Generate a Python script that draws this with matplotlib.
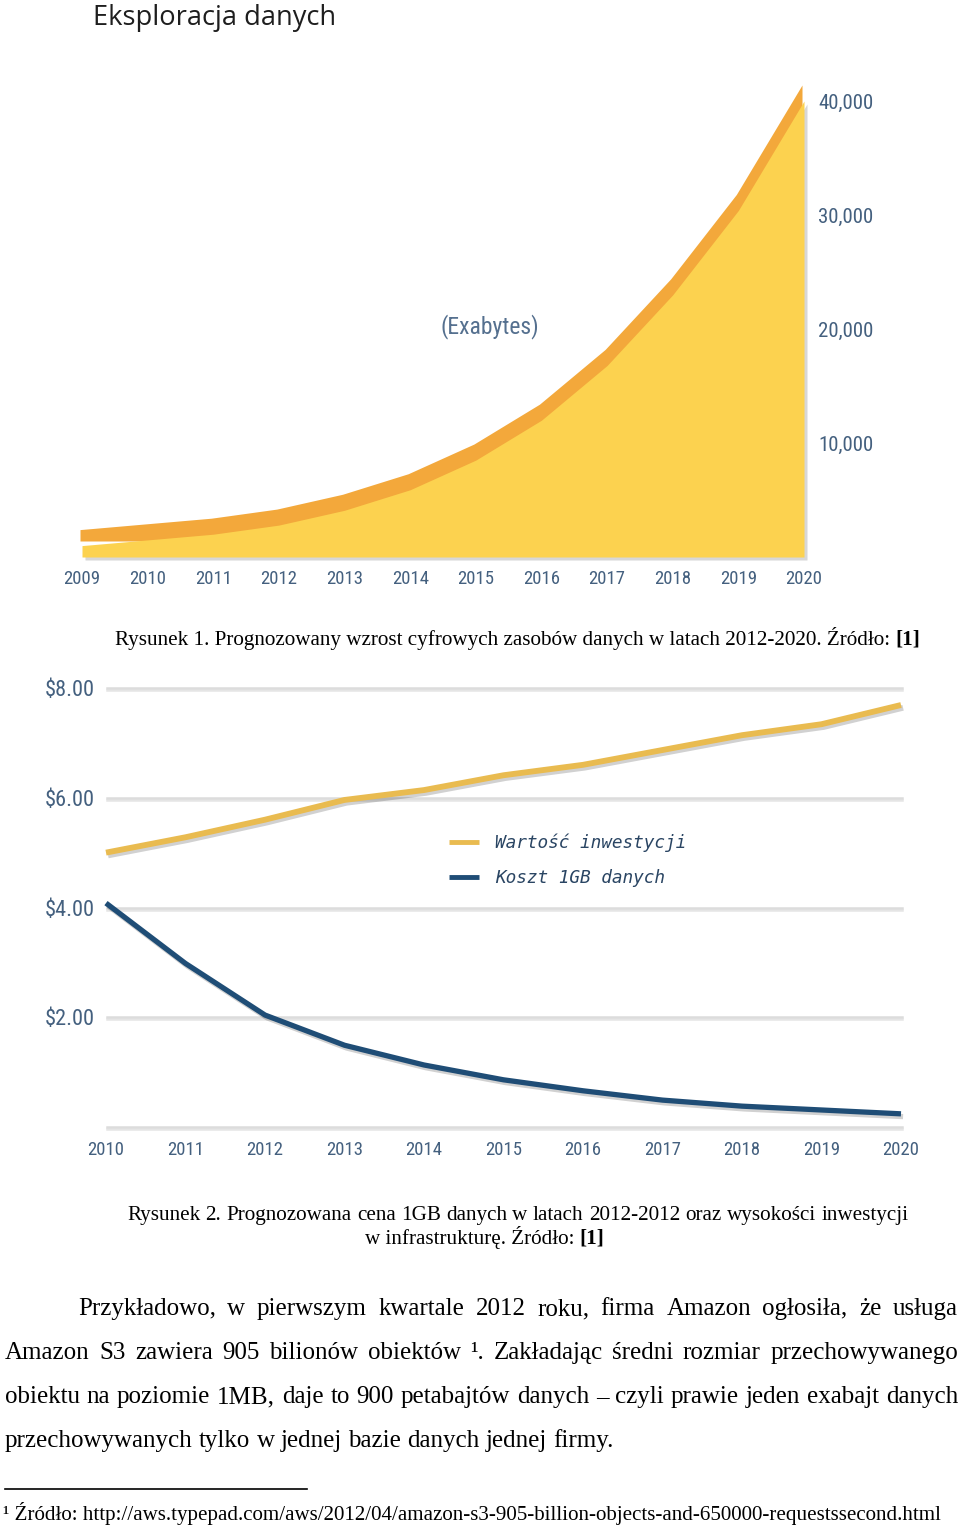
import matplotlib
matplotlib.use("Agg")
import matplotlib.pyplot as plt
import matplotlib.transforms as mtransforms
import matplotlib.patheffects as pe
from matplotlib.lines import Line2D

W, H = 960, 1527

# ---- data: chart 1 (digital data, exabytes)
years1 = [2009, 2010, 2011, 2012, 2013, 2014, 2015, 2016, 2017, 2018, 2019, 2020]
exabytes = [1000, 1500, 2000, 2800, 4100, 5900, 8500, 12000, 16800, 23000, 30400, 40000]
ticks1 = [10000, 20000, 30000, 40000]
tick1_labels = ["10,000", "20,000", "30,000", "40,000"]

# ---- data: chart 2 (price of 1GB vs investment)
years2 = [2010, 2011, 2012, 2013, 2014, 2015, 2016, 2017, 2018, 2019, 2020]
investment = [5.0, 5.28, 5.6, 5.96, 6.14, 6.41, 6.6, 6.87, 7.14, 7.34, 7.69]
cost_1gb = [4.08, 2.98, 2.04, 1.49, 1.13, 0.86, 0.66, 0.49, 0.38, 0.31, 0.24]
ticks2 = [2, 4, 6, 8]
tick2_labels = ["$2.00", "$4.00", "$6.00", "$8.00"]
legend_labels = ["Wartość inwestycji", "Koszt 1GB danych"]

header = "Eksploracja danych"
caption1 = ["Rysunek 1. Prognozowany wzrost cyfrowych zasobów danych w latach 2012-2020. Źródło: ", "[1]"]
caption2a = "Rysunek 2. Prognozowana cena 1GB danych w latach 2012-2012 oraz wysokości inwestycji"
caption2b = ["w infrastrukturę. Źródło: ", "[1]"]
paragraph = [
    "Przykładowo, w pierwszym kwartale 2012 roku, firma Amazon ogłosiła, że usługa",
    "Amazon S3 zawiera 905 bilionów obiektów ¹. Zakładając średni rozmiar przechowywanego",
    "obiektu na poziomie 1MB, daje to 900 petabajtów danych – czyli prawie jeden exabajt danych",
    "przechowywanych tylko w jednej bazie danych jednej firmy.",
]
footnote = "¹ Źródło: http://aws.typepad.com/aws/2012/04/amazon-s3-905-billion-objects-and-650000-requestssecond.html"

narrow = ["Liberation Sans Narrow", "Roboto Condensed", "Liberation Sans"]
serif = ["Liberation Serif", "DejaVu Serif"]
tick_col = "#44607f"
cap_size = 15.2


def fx(x):
    return x / W


def fy(y):
    return 1 - y / H


def axes_px(x0, x1, y_top, y_bot):
    return [fx(x0), fy(y_bot), (x1 - x0) / W, (y_bot - y_top) / H]


fig = plt.figure(figsize=(W / 100, H / 100), dpi=100)
renderer = fig.canvas.get_renderer()


def width_px(t):
    return t.get_window_extent(renderer).width


def rich_line(pieces, x, y, size):
    # pieces: list of (text, weight); placed one after another from x
    for txt, weight in pieces:
        t = fig.text(fx(x), fy(y), txt, fontsize=size, family=serif,
                     fontweight=weight, va="baseline", ha="left")
        x += width_px(t)


def justified(line, x0, x1, y, size, justify=True):
    words = line.split(" ")
    objs = [fig.text(fx(x0), fy(y), w, fontsize=size, family=serif,
                     va="baseline", ha="left") for w in words]
    widths = [width_px(o) for o in objs]
    space = width_px(fig.text(0, 0, "a a", fontsize=size, family=serif, alpha=0)) - \
        width_px(fig.text(0, 0, "aa", fontsize=size, family=serif, alpha=0))
    if justify and len(words) > 1:
        space = (x1 - x0 - sum(widths)) / (len(words) - 1)
    x = x0
    for o, w in zip(objs, widths):
        o.set_x(fx(x))
        x += w + space


# ---- header
fig.text(fx(93), fy(25), header, fontsize=19.6, family=["Open Sans", "DejaVu Sans"],
         color="#1e1e1e", va="baseline", ha="left")

# ---- chart 1
ax1 = fig.add_axes(axes_px(82 - 0.1 * 65.64, 804, 557 - 4.3 * 114, 557))
ax1.set_xlim(2008.9, 2020)
ax1.set_ylim(0, 43000)
shadow = mtransforms.offset_copy(ax1.transData, fig=fig, x=3, y=-3, units="dots")
ax1.fill_between(years1, 0, exabytes, color="#8d8d8d", alpha=0.35, lw=0,
                 transform=shadow, clip_on=False)
top_face = mtransforms.offset_copy(ax1.transData, fig=fig, x=-2, y=16, units="dots")
ax1.fill_between(years1, 0, exabytes, color="#f3a83b", lw=0, transform=top_face)
ax1.fill_between(years1, 0, exabytes, color="#fcd24f", lw=0)
ax1.text(2015.22, 20200, "(Exabytes)", ha="center", va="center", fontsize=17,
         family=narrow, color="#55708f")
ax1.set_xticks(years1)
ax1.set_xticklabels([str(y) for y in years1], family=narrow, fontsize=13.5, color=tick_col)
ax1.yaxis.tick_right()
ax1.set_yticks(ticks1)
ax1.set_yticklabels(tick1_labels, family=narrow, fontsize=15, color=tick_col)
ax1.tick_params(axis="x", length=0, pad=9)
ax1.tick_params(axis="y", length=0, pad=10)
for s in ax1.spines.values():
    s.set_visible(False)
ax1.patch.set_alpha(0)

rich_line([(caption1[0], "normal"), (caption1[1], "bold")], 115, 645, cap_size)

# ---- chart 2
ppu = (1127 - 688) / 8.0
ax2 = fig.add_axes(axes_px(106, 901, 1127 - 8.3 * ppu, 1127))
ax2.set_xlim(2010, 2020)
ax2.set_ylim(0, 8.3)
grid_fx = [pe.SimpleLineShadow(offset=(0, -1.5), alpha=0.1), pe.Normal()]
for v in [0] + ticks2:
    ax2.axhline(v, xmin=0.001, xmax=1.001, color="#dcdcdc", lw=1.8, clip_on=False,
                path_effects=grid_fx)
line_fx = [pe.SimpleLineShadow(offset=(1.5, -2), alpha=0.18), pe.Normal()]
ax2.plot(years2, investment, color="#e9bb50", lw=4.2, solid_capstyle="butt",
         clip_on=False, path_effects=line_fx, label=legend_labels[0])
ax2.plot(years2, cost_1gb, color="#1f4d76", lw=3.8, solid_capstyle="butt",
         clip_on=False, path_effects=line_fx, label=legend_labels[1])
ax2.set_xticks(years2)
ax2.set_xticklabels([str(y) for y in years2], family=narrow, fontsize=13.5, color=tick_col)
ax2.set_yticks(ticks2)
ax2.set_yticklabels(tick2_labels, family=narrow, fontsize=16, color=tick_col)
ax2.tick_params(axis="x", length=0, pad=10)
ax2.tick_params(axis="y", length=0, pad=8)
for s in ax2.spines.values():
    s.set_visible(False)
ax2.patch.set_alpha(0)
leg = ax2.legend(loc="upper left", bbox_to_anchor=(fx(433), fy(818)),
                 bbox_transform=fig.transFigure, frameon=False, handlelength=1.7,
                 handletextpad=0.9, labelspacing=0.95,
                 prop={"family": "DejaVu Sans Mono", "style": "oblique", "size": 12.8})
for t in leg.get_texts():
    t.set_color("#2a4563")
for h in leg.get_lines():
    h.set_path_effects([])
    h.set_linewidth(3.5)

justified(caption2a, 127, 909, 1220, cap_size, justify=False)
rich_line([(caption2b[0], "normal"), (caption2b[1], "bold")], 365, 1244, cap_size)

# ---- paragraph
lefts = [78, 5, 5, 5]
bases = [1315, 1359, 1403, 1447]
for i, line in enumerate(paragraph):
    justified(line, lefts[i], 958, bases[i], 18, justify=(i < 3))

# ---- footnote
fig.add_artist(Line2D([fx(5), fx(307)], [fy(1489), fy(1489)], color="black", lw=1.2))
fig.text(fx(3), fy(1520), footnote, fontsize=15.1, family=serif, va="baseline", ha="left")

fig.savefig("out.png", dpi=100)
